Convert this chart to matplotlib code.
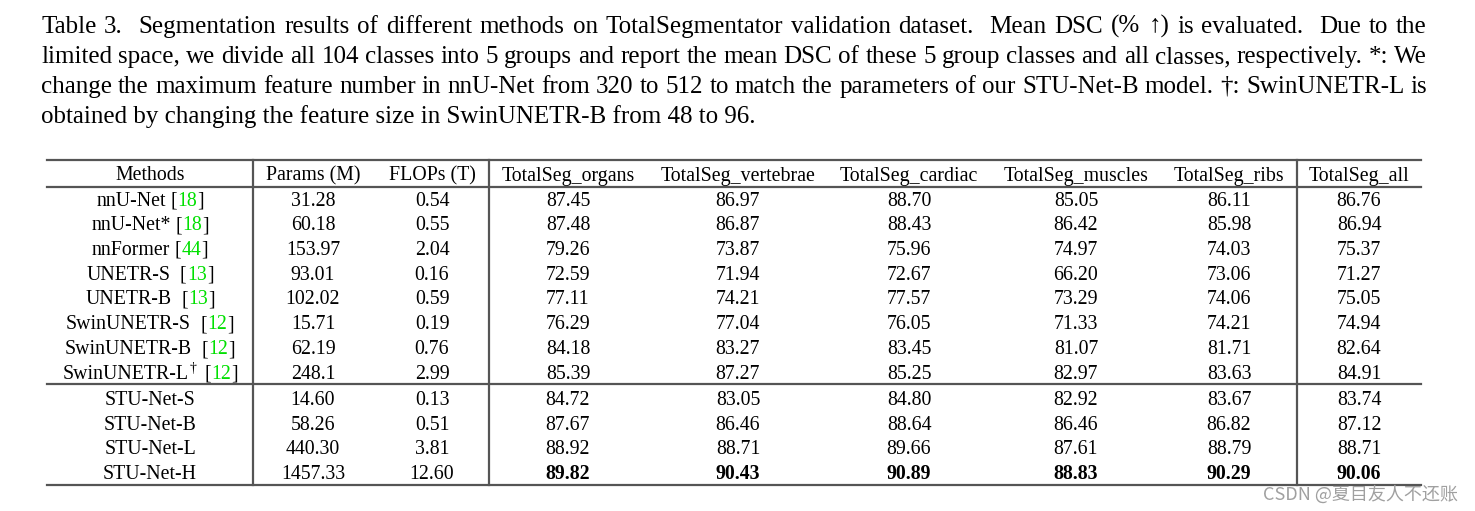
import matplotlib
matplotlib.use("Agg")
import matplotlib.pyplot as plt

# caption lines (justified except last)
caption = [
    "Table 3.  Segmentation results of different methods on TotalSegmentator validation dataset.  Mean DSC (% \u2191) is evaluated.  Due to the",
    "limited space, we divide all 104 classes into 5 groups and report the mean DSC of these 5 group classes and all classes, respectively. *: We",
    "change the maximum feature number in nnU-Net from 320 to 512 to match the parameters of our STU-Net-B model. \u2020: SwinUNETR-L is",
    "obtained by changing the feature size in SwinUNETR-B from 48 to 96.",
]

headers = ["Methods", "Params (M)", "FLOPs (T)", "TotalSeg_organs", "TotalSeg_vertebrae",
           "TotalSeg_cardiac", "TotalSeg_muscles", "TotalSeg_ribs", "TotalSeg_all"]

methods = ["nnU-Net", "nnU-Net*", "nnFormer", "UNETR-S", "UNETR-B", "SwinUNETR-S",
           "SwinUNETR-B", "SwinUNETR-L", "STU-Net-S", "STU-Net-B", "STU-Net-L", "STU-Net-H"]
cites = ["18", "18", "44", "13", "13", "12", "12", "12", None, None, None, None]
params = ["31.28", "60.18", "153.97", "93.01", "102.02", "15.71", "62.19", "248.1",
          "14.60", "58.26", "440.30", "1457.33"]
flops = ["0.54", "0.55", "2.04", "0.16", "0.59", "0.19", "0.76", "2.99",
         "0.13", "0.51", "3.81", "12.60"]
organs = [87.45, 87.48, 79.26, 72.59, 77.11, 76.29, 84.18, 85.39, 84.72, 87.67, 88.92, 89.82]
vertebrae = [86.97, 86.87, 73.87, 71.94, 74.21, 77.04, 83.27, 87.27, 83.05, 86.46, 88.71, 90.43]
cardiac = [88.70, 88.43, 75.96, 72.67, 77.57, 76.05, 83.45, 85.25, 84.80, 88.64, 89.66, 90.89]
muscles = [85.05, 86.42, 74.97, 66.20, 73.29, 71.33, 81.07, 82.97, 82.92, 86.46, 87.61, 88.83]
ribs = [86.11, 85.98, 74.03, 73.06, 74.06, 74.21, 81.71, 83.63, 83.67, 86.82, 88.79, 90.29]
all_cls = [86.76, 86.94, 75.37, 71.27, 75.05, 74.94, 82.64, 84.91, 83.74, 87.12, 88.71, 90.06]

SERIF = ["Liberation Serif", "DejaVu Serif"]
W, H = 1475, 511
fig = plt.figure(figsize=(W / 100, H / 100), dpi=100)
ax = fig.add_axes([0, 0, 1, 1])
ax.set_xlim(0, W)
ax.set_ylim(H, 0)
ax.axis("off")
renderer = fig.canvas.get_renderer()


def width_of(s, size, weight="normal"):
    t = ax.text(0, 0, s, fontsize=size, family=SERIF, fontweight=weight)
    w = t.get_window_extent(renderer).width  # 1 px == 1 data unit here
    t.remove()
    return w


# caption, justified like the LaTeX original
cap_size = 18.0
cap_left, cap_right = 41, 1427
for i, line in enumerate(caption):
    yb = 33 + 30 * i
    if i == len(caption) - 1:
        ax.text(cap_left, yb, line, fontsize=cap_size, family=SERIF, va="baseline", ha="left")
        continue
    words = line.split(" ")
    widths = [width_of(w, cap_size) if w else 0 for w in words]
    gap = (cap_right - cap_left - sum(widths)) / (len(words) - 1)
    x = cap_left
    for w, wd in zip(words, widths):
        if w:
            ax.text(x, yb, w, fontsize=cap_size, family=SERIF, va="baseline", ha="left")
        x += wd + gap

# table geometry
fs = 14.3
col_x = [150, 313, 432, 568, 738, 909, 1076, 1229, 1359]
x_left, x_right = 47, 1421
y_top, y_head, y_bot = 160, 187, 485
y_sep = 384.5
rows_y = [199 + 24.75 * i + (1.5 if i >= 8 else 0) for i in range(len(methods))]
base_off = 6.5

lc = "#555555"
for yy in [y_top, y_head, y_sep, y_bot]:
    ax.plot([x_left, x_right], [yy, yy], color=lc, lw=1.6)
for vx in [253, 489, 1297]:
    ax.plot([vx, vx], [y_top, y_bot], color=lc, lw=1.6)

for cx, h in zip(col_x, headers):
    ax.text(cx, 174 + base_off, h, fontsize=fs, family=SERIF, ha="center", va="baseline")

green = "#00e000"
dsc_cols = [organs, vertebrae, cardiac, muscles, ribs, all_cls]
for i, y in enumerate(rows_y):
    yb = y + base_off
    if cites[i] is None:
        ax.text(col_x[0], yb, methods[i], fontsize=fs, family=SERIF, ha="center", va="baseline")
    else:
        name = methods[i]
        dag = name == "SwinUNETR-L"
        sp = "  " if name.startswith(("UNETR", "Swin")) else " "
        w_name = width_of(name, fs)
        w_dag = width_of("\u2020", fs * 0.7) if dag else 0
        w_open = width_of(name + sp + "[", fs) - w_name
        w_num = width_of(name + sp + "[" + cites[i], fs) - w_name - w_open
        w_all = width_of(name + sp + "[" + cites[i] + "]", fs) + w_dag
        x0 = col_x[0] - w_all / 2
        ax.text(x0, yb, name, fontsize=fs, family=SERIF, ha="left", va="baseline")
        if dag:
            ax.text(x0 + w_name + 1, yb - 7, "\u2020", fontsize=fs * 0.7, family=SERIF,
                    ha="left", va="baseline")
        xs = x0 + w_name + w_dag
        ax.text(xs, yb, sp + "[", fontsize=fs, family=SERIF, ha="left", va="baseline")
        ax.text(xs + w_open, yb, cites[i], fontsize=fs, family=SERIF, color=green,
                ha="left", va="baseline")
        ax.text(xs + w_open + w_num, yb, "]", fontsize=fs, family=SERIF, ha="left", va="baseline")
    ax.text(col_x[1], yb, params[i], fontsize=fs, family=SERIF, ha="center", va="baseline")
    ax.text(col_x[2], yb, flops[i], fontsize=fs, family=SERIF, ha="center", va="baseline")
    for j, col in enumerate(dsc_cols):
        ax.text(col_x[3 + j], yb, f"{col[i]:.2f}", fontsize=fs, family=SERIF, ha="center",
                va="baseline", fontweight="bold" if i == len(methods) - 1 else "normal")

# watermark
ax.text(1458, 500, "CSDN @夏目友人不还账", fontsize=13, color="#a0a0a0",
        family=["Noto Sans CJK SC", "DejaVu Sans"], ha="right", va="baseline")

fig.savefig("out.png", dpi=100)
